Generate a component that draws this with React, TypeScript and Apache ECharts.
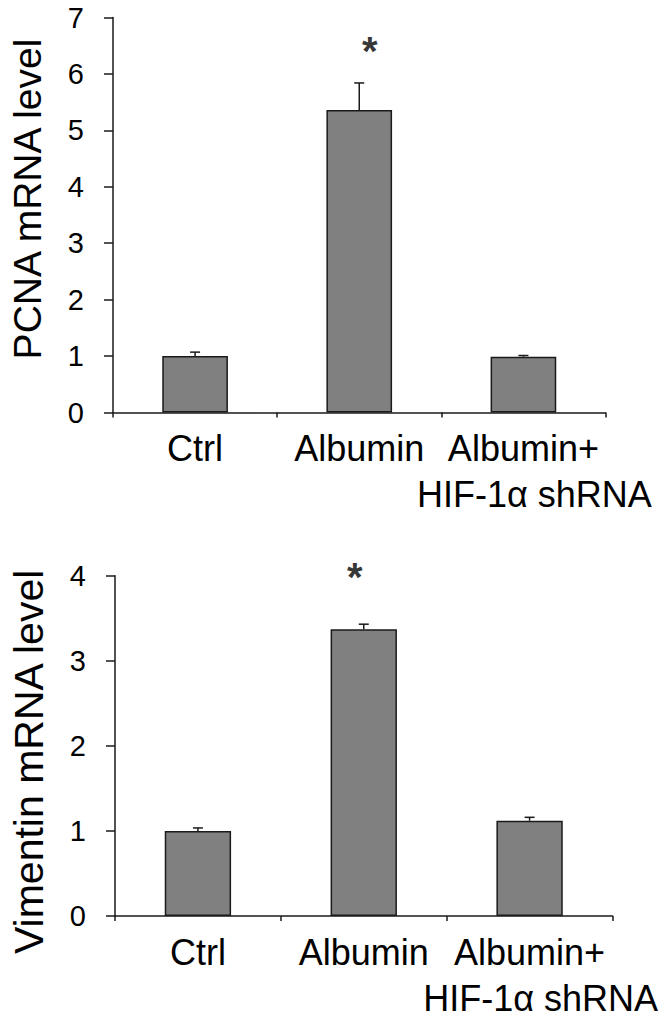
import React, { useEffect, useRef } from "react";
import * as echarts from "echarts";

const categories = ["Ctrl", "Albumin", "Albumin+\nHIF-1α shRNA"];

const pcnaValues = [1.0, 5.36, 0.99];
const pcnaErrors = [0.07, 0.48, 0.02];
const pcnaStars = [null, 6.4, null];

const vimValues = [1.0, 3.37, 1.12];
const vimErrors = [0.035, 0.06, 0.04];
const vimStars = [null, 3.99, null];

const yTicksTop = { min: 0, max: 7, interval: 1 };
const yTicksBottom = { min: 0, max: 4, interval: 1 };

const FONT = "Liberation Sans, Arial, sans-serif";

function xAxisFor(gridIndex: number) {
  return {
    type: "category",
    gridIndex,
    data: categories,
    axisLine: { lineStyle: { color: "#1a1a1a", width: 1.5 } },
    axisTick: { show: true, length: 5, lineStyle: { color: "#1a1a1a", width: 1.5 } },
    axisLabel: {
      margin: 13,
      color: "#000",
      fontFamily: FONT,
      fontSize: 36,
      lineHeight: 46,
      interval: 0,
      formatter: (v: string) => {
        const parts = v.split("\n");
        if (parts.length === 1) return "{a|" + v + "}";
        return "{a|" + parts[0] + "}\n{b|" + parts[1] + "}";
      },
      rich: {
        a: { fontFamily: FONT, fontSize: 36, lineHeight: 46, color: "#000" },
        b: { fontFamily: FONT, fontSize: 36, lineHeight: 46, color: "#000", padding: [0, 0, 0, 22] },
      },
    },
  };
}

function yAxisFor(gridIndex: number, ticks: any, name: string, pad: number[], size: number) {
  return {
    type: "value",
    gridIndex,
    min: ticks.min,
    max: ticks.max,
    interval: ticks.interval,
    name,
    nameLocation: "middle",
    nameGap: 66,
    nameTextStyle: { fontFamily: FONT, fontSize: size, color: "#000", padding: pad },
    splitLine: { show: false },
    axisLine: { show: true, lineStyle: { color: "#1a1a1a", width: 1.5 } },
    axisTick: { show: true, length: 9, lineStyle: { color: "#1a1a1a", width: 1.5 } },
    axisLabel: { margin: 29, color: "#000", fontFamily: FONT, fontSize: 29 },
  };
}

function errorSeries(idx: number, values: number[], errors: number[]) {
  return {
    type: "custom",
    xAxisIndex: idx,
    yAxisIndex: idx,
    z: 1,
    data: values.map((v, i) => [i, v, v + errors[i]]),
    renderItem: (params: any, api: any) => {
      const x = api.value(0);
      const lo = api.coord([x, api.value(1)]);
      const hi = api.coord([x, api.value(2)]);
      const half = 5;
      const style = { stroke: "#1a1a1a", lineWidth: 1.5 };
      return {
        type: "group",
        children: [
          { type: "line", shape: { x1: lo[0], y1: lo[1], x2: hi[0], y2: hi[1] }, style },
          { type: "line", shape: { x1: hi[0] - half, y1: hi[1], x2: hi[0] + half, y2: hi[1] }, style },
        ],
      };
    },
  };
}

function barSeries(idx: number, values: number[]) {
  return {
    type: "bar",
    xAxisIndex: idx,
    yAxisIndex: idx,
    barWidth: "40%",
    z: 2,
    data: values,
    itemStyle: { color: "#808080", borderColor: "#1a1a1a", borderWidth: 1.5 },
  };
}

function starSeries(idx: number, stars: (number | null)[], dx: number) {
  return {
    type: "scatter",
    xAxisIndex: idx,
    yAxisIndex: idx,
    symbolSize: 0,
    z: 5,
    data: stars.map((s, i) => (s === null ? null : [i, s])).filter((d) => d !== null),
    label: {
      show: true,
      position: "inside",
      formatter: "*",
      offset: [dx, 0],
      color: "#000",
      textBorderWidth: 0,
      fontFamily: FONT,
      fontWeight: "bold",
      fontSize: 40,
    },
  };
}

export default function App() {
  const ref = useRef<HTMLDivElement>(null);
  useEffect(() => {
    document.body.style.margin = "0";
    const chart = echarts.init(ref.current!, null, { renderer: "svg" });
    chart.setOption({
      animation: false,
      backgroundColor: "#fff",
      grid: [
        { left: 109, top: 17.5, width: 496.5, height: 395 },
        { left: 110, top: 575.7, width: 502.5, height: 345.3 },
      ],
      xAxis: [xAxisFor(0), xAxisFor(1)],
      yAxis: [
        yAxisFor(0, yTicksTop, "PCNA mRNA level", [0, 0, 0, 32], 39),
        yAxisFor(1, yTicksBottom, "Vimentin mRNA level", [0, 32, 0, 0], 41),
      ],
      series: [
        barSeries(0, pcnaValues),
        errorSeries(0, pcnaValues, pcnaErrors),
        starSeries(0, pcnaStars, 10.5),
        barSeries(1, vimValues),
        errorSeries(1, vimValues, vimErrors),
        starSeries(1, vimStars, -9),
      ],
    });
    return () => chart.dispose();
  }, []);
  return <div ref={ref} style={{ width: 666, height: 1021 }} />;
}
